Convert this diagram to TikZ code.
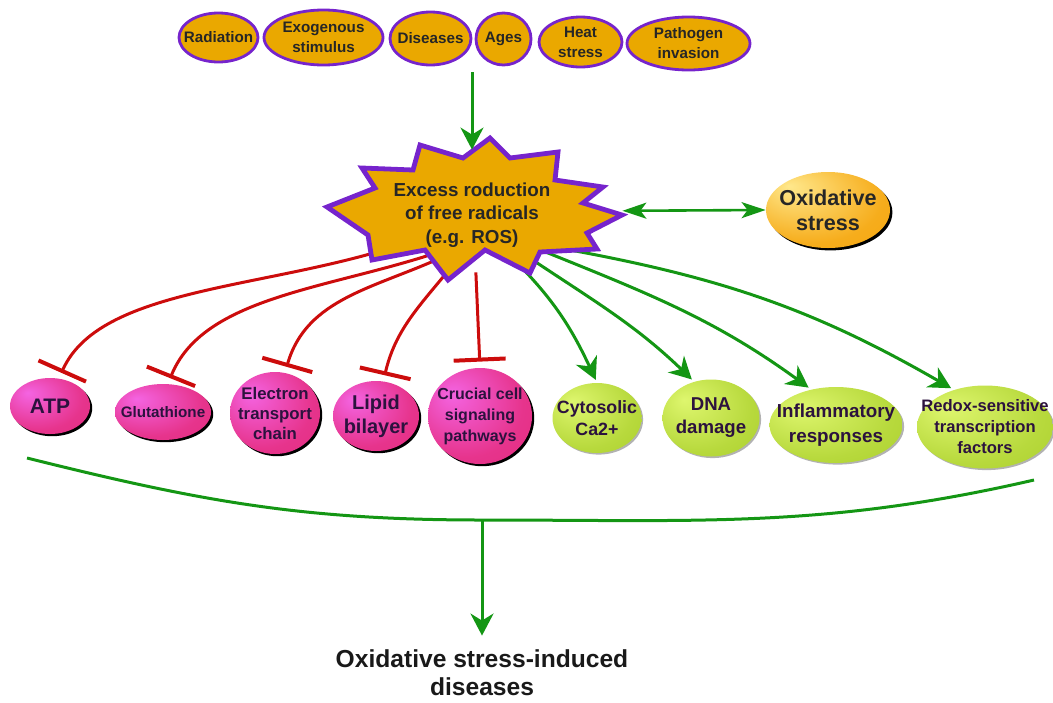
\documentclass[tikz,border=0pt]{standalone}
\usepackage{fontspec}
\setmainfont{Liberation Sans}
\usetikzlibrary{shapes.geometric,arrows.meta,shadows}
\pgfdeclarelayer{back}
\pgfsetlayers{back,main}
\definecolor{causefill}{RGB}{234,168,0}
\definecolor{causeline}{RGB}{118,36,204}
\definecolor{flowgreen}{RGB}{20,150,20}
\definecolor{inhibred}{RGB}{204,12,12}
\definecolor{pinklight}{RGB}{244,100,226}
\definecolor{pinkdeep}{RGB}{226,36,112}
\definecolor{limelight}{RGB}{222,246,110}
\definecolor{limedeep}{RGB}{158,198,28}
\definecolor{orlight}{RGB}{255,232,140}
\definecolor{ordeep}{RGB}{244,158,0}
\definecolor{inktext}{RGB}{44,18,62}
\pgfdeclareradialshading{pinkshade}{\pgfpoint{-14bp}{12bp}}{color(0bp)=(pinklight); color(28bp)=(pinkdeep!75!pinklight); color(60bp)=(pinkdeep)}
\pgfdeclareradialshading{limeshade}{\pgfpoint{-14bp}{12bp}}{color(0bp)=(limelight); color(28bp)=(limedeep!60!limelight); color(60bp)=(limedeep)}
\pgfdeclareradialshading{orshade}{\pgfpoint{-16bp}{16bp}}{color(0bp)=(orlight); color(30bp)=(ordeep!80!orlight); color(60bp)=(ordeep)}
\begin{document}
\begin{tikzpicture}[x=0.5pt,y=0.5pt,
 cause/.style={ellipse,draw=causeline,line width=1.4pt,fill=causefill,inner sep=0pt},
 causetext/.style={font=\fontsize{7.6}{10}\selectfont\bfseries,align=center,text=black!85},
 inhibited/.style={ellipse,shade,shading=pinkshade,inner sep=0pt,drop shadow={shadow xshift=1.1pt,shadow yshift=-1.1pt,opacity=1,fill=black}},
 induced/.style={ellipse,shade,shading=limeshade,inner sep=0pt,drop shadow={shadow xshift=0.8pt,shadow yshift=-0.8pt,opacity=0.3,fill=black}},
 blobtext/.style={align=center,text=inktext},
 blocks/.style={inhibred,line width=1.5pt,-{Bar[width=26pt,line width=2pt]},shorten >=3pt},
 leads/.style={flowgreen,line width=1.5pt,-{Stealth[length=11pt,width=11.5pt,inset=3.5pt]}}]
\useasboundingbox (0,0) rectangle (1053,-702);
\node[cause,minimum width=39.5pt,minimum height=24.5pt,label={[causetext]center:Radiation}] (radiation) at (218.5,-37.5) {};
\node[cause,minimum width=59.5pt,minimum height=27.5pt,label={[causetext]center:Exogenous\\stimulus}] (exogenous) at (323.5,-37.5) {};
\node[cause,minimum width=40.5pt,minimum height=26.5pt,label={[causetext]center:Diseases}] (diseases) at (430.5,-38.5) {};
\node[cause,minimum width=27.5pt,minimum height=26pt,label={[causetext]center:Ages}] (ages) at (503.5,-39) {};
\node[cause,minimum width=41.5pt,minimum height=25pt,label={[causetext]center:Heat\\stress}] (heat) at (580.5,-42) {};
\node[cause,minimum width=61.5pt,minimum height=26.5pt,label={[causetext]center:Pathogen\\invasion}] (pathogen) at (688.5,-43.5) {};
\coordinate (causes) at (472,-72);
\node[ellipse,minimum width=115pt,minimum height=45pt,inner sep=0pt,label={[align=center,font=\fontsize{9.4}{11.7}\selectfont\bfseries,text=black!85,yshift=-2pt]center:Excess roduction\\of free radicals\\(e.g. ROS)}] (ros) at (472,-211) {};
\node[ellipse,minimum width=62pt,minimum height=38pt,shade,shading=orshade,inner sep=0pt,drop shadow={shadow xshift=1.2pt,shadow yshift=-1.2pt,opacity=1,fill=black},label={[align=center,text=black!85,font=\fontsize{10.8}{12.5}\selectfont\bfseries]center:Oxidative\\stress}] (ox) at (828,-210) {};
\node[inhibited,minimum width=40pt,minimum height=28pt,label={[blobtext,font=\fontsize{10.5}{12}\selectfont\bfseries]center:ATP}] (atp) at (50,-406) {};
\node[inhibited,minimum width=48pt,minimum height=28pt,label={[blobtext,font=\fontsize{7.6}{9}\selectfont\bfseries]center:Glutathione}] (glu) at (163,-412) {};
\node[inhibited,minimum width=45pt,minimum height=41pt,label={[blobtext,font=\fontsize{8.4}{10}\selectfont\bfseries]center:Electron\\transport\\chain}] (etc) at (275,-413) {};
\node[inhibited,minimum width=43pt,minimum height=35pt,label={[blobtext,font=\fontsize{10}{12}\selectfont\bfseries]center:Lipid\\bilayer}] (lipid) at (376,-416) {};
\node[inhibited,minimum width=52pt,minimum height=48pt,label={[blobtext,font=\fontsize{8}{10.5}\selectfont\bfseries]center:Crucial cell\\signaling\\pathways}] (crucial) at (480,-416) {};
\node[induced,minimum width=44.5pt,minimum height=35pt,label={[blobtext,font=\fontsize{8.9}{11}\selectfont\bfseries]center:Cytosolic\\Ca2+}] (cyto) at (597,-418) {};
\node[induced,minimum width=48.5pt,minimum height=38.5pt,label={[blobtext,font=\fontsize{9.3}{11.5}\selectfont\bfseries]center:DNA\\damage}] (dna) at (711,-418) {};
\node[induced,minimum width=66.5pt,minimum height=38pt,label={[blobtext,font=\fontsize{9.4}{12.5}\selectfont\bfseries]center:Inflammatory\\responses}] (infl) at (836,-425) {};
\node[induced,minimum width=68pt,minimum height=41.5pt,label={[blobtext,font=\fontsize{8.3}{10.5}\selectfont\bfseries]center:Redox-sensitive\\transcription\\factors}] (redox) at (985,-427) {};
\coordinate (bracketleft) at (27,-458);
\coordinate (join) at (482,-520);
\coordinate (bracketright) at (1034,-480);
\node[align=center,inner sep=0pt,font=\fontsize{12.3}{14}\selectfont\bfseries,text=black!90] (result) at (482,-673) {Oxidative stress-induced\\diseases};

\draw[leads,shorten >=8pt] (causes) -- (ros.north);
\draw[flowgreen,line width=1.3pt,{Stealth[length=12pt,width=8pt,inset=3pt]}-{Stealth[length=12pt,width=8pt,inset=3pt]},shorten <=17.5pt] (ros.east) -- (ox.west);
\draw[flowgreen,line width=1.5pt] (bracketleft) to[out=-14,in=180] (join) to[out=0,in=193] (bracketright);
\draw[leads,shorten >=7pt] (join) -- (result.north);

\begin{pgfonlayer}{back}
\draw[blocks] (ros.205) to[out=198,in=66,in looseness=0.7] (atp.72);
\draw[blocks] (ros.228) to[out=198,in=68,in looseness=0.8] (glu.80);
\draw[blocks] (ros.240) to[out=205,in=74] (etc.76);
\draw[blocks] (ros.255) to[out=232,in=77] (lipid.78);
\draw[blocks,shorten <=8pt] (ros.274) -- (crucial.north);
\draw[leads,shorten >=1.5pt] (ros.310) to[out=316,in=115] (cyto.north);
\draw[leads,shorten >=1.5pt] (ros.320) to[out=326,in=136] (dna.115);
\draw[leads,shorten >=1.5pt] (ros.330) to[out=338,in=144] (infl.125);
\draw[leads,shorten >=1.5pt] (ros.335) to[out=350,in=150] (redox.130);
\draw[causeline,line width=2.4pt,fill=causefill,shift={(ros.center)}] plot coordinates {(18,73) (38,53) (86,59) (83,31) (131,24) (111,8) (150,-4) (115,-22) (125,-38) (68,-41) (58,-62) (13,-39) (-24,-69) (-47,-39) (-100,-49) (-104,-24) (-145,4) (-97,23) (-110,43) (-59,41) (-52,66) (-9,53)} -- cycle;
\end{pgfonlayer}
\end{tikzpicture}
\end{document}
